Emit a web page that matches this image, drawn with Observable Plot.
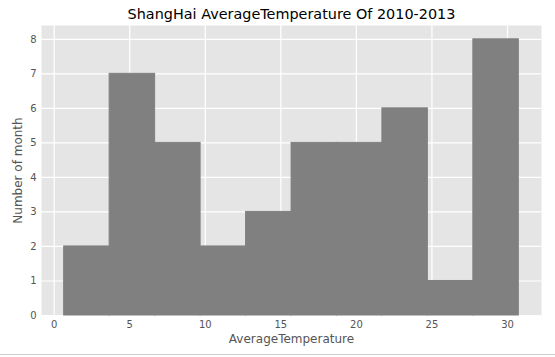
<!DOCTYPE html>
<html>
<head>
<meta charset="utf-8">
<script src="https://cdn.jsdelivr.net/npm/d3@7"></script>
<script src="https://cdn.jsdelivr.net/npm/@observablehq/plot@0.6"></script>
<style>
  html, body { margin: 0; padding: 0; background: #fff; overflow: hidden; }
  #chart { width: 555px; }
  #rule { width: 555px; height: 0; border-top: 1px solid #cccccc; }
</style>
</head>
<body>
<div id="chart"></div>
<div id="rule"></div>
<script>
const titleText = "ShangHai AverageTemperature Of 2010-2013";
const xLabel = "AverageTemperature";
const yLabel = "Number of month";
const binEdges = [0.66, 3.67, 6.68, 9.69, 12.70, 15.71, 18.71, 21.72, 24.73, 27.74, 30.75];
const counts = [2, 7, 5, 2, 3, 5, 5, 6, 1, 8];
const xTicks = [0, 5, 10, 15, 20, 25, 30];
const yTicks = [0, 1, 2, 3, 4, 5, 6, 7, 8];

const bins = counts.map((c, i) => ({x1: binEdges[i], x2: binEdges[i + 1], count: c}));

const chart = Plot.plot({
  width: 555,
  height: 354,
  marginTop: 25,
  marginBottom: 39,
  marginLeft: 41,
  marginRight: 14,
  style: {fontFamily: "DejaVu Sans", fontSize: "10px", color: "#555", background: "transparent", overflow: "visible"},
  x: {domain: [-0.84, 32.25], label: null},
  y: {domain: [0, 8.4], label: null},
  marks: [
    Plot.frame({fill: "#e5e5e5", stroke: null}),
    Plot.gridX(xTicks, {stroke: "white", strokeOpacity: 1, strokeWidth: 1.2}),
    Plot.gridY(yTicks, {stroke: "white", strokeOpacity: 1, strokeWidth: 1.2}),
    Plot.rectY(bins, {x1: "x1", x2: "x2", y: "count", fill: "#808080", stroke: "#808080", strokeWidth: 1, inset: 0}),
    Plot.axisX(xTicks, {tickSize: 0, tickPadding: 5, fill: "#555", fontSize: 10}),
    Plot.axisY(yTicks, {tickSize: 0, tickPadding: 5, fill: "#555", fontSize: 10}),
    Plot.text([titleText], {frameAnchor: "top", lineAnchor: "middle", textAnchor: "middle", dy: -11, fontSize: 14.4, fill: "black"}),
    Plot.text([xLabel], {frameAnchor: "bottom", lineAnchor: "middle", textAnchor: "middle", dy: 24, fontSize: 12, fill: "#555"}),
    Plot.text([yLabel], {frameAnchor: "left", lineAnchor: "middle", textAnchor: "middle", dx: -23, rotate: -90, fontSize: 12, fill: "#555"})
  ]
});
document.getElementById("chart").appendChild(chart);
</script>
</body>
</html>
